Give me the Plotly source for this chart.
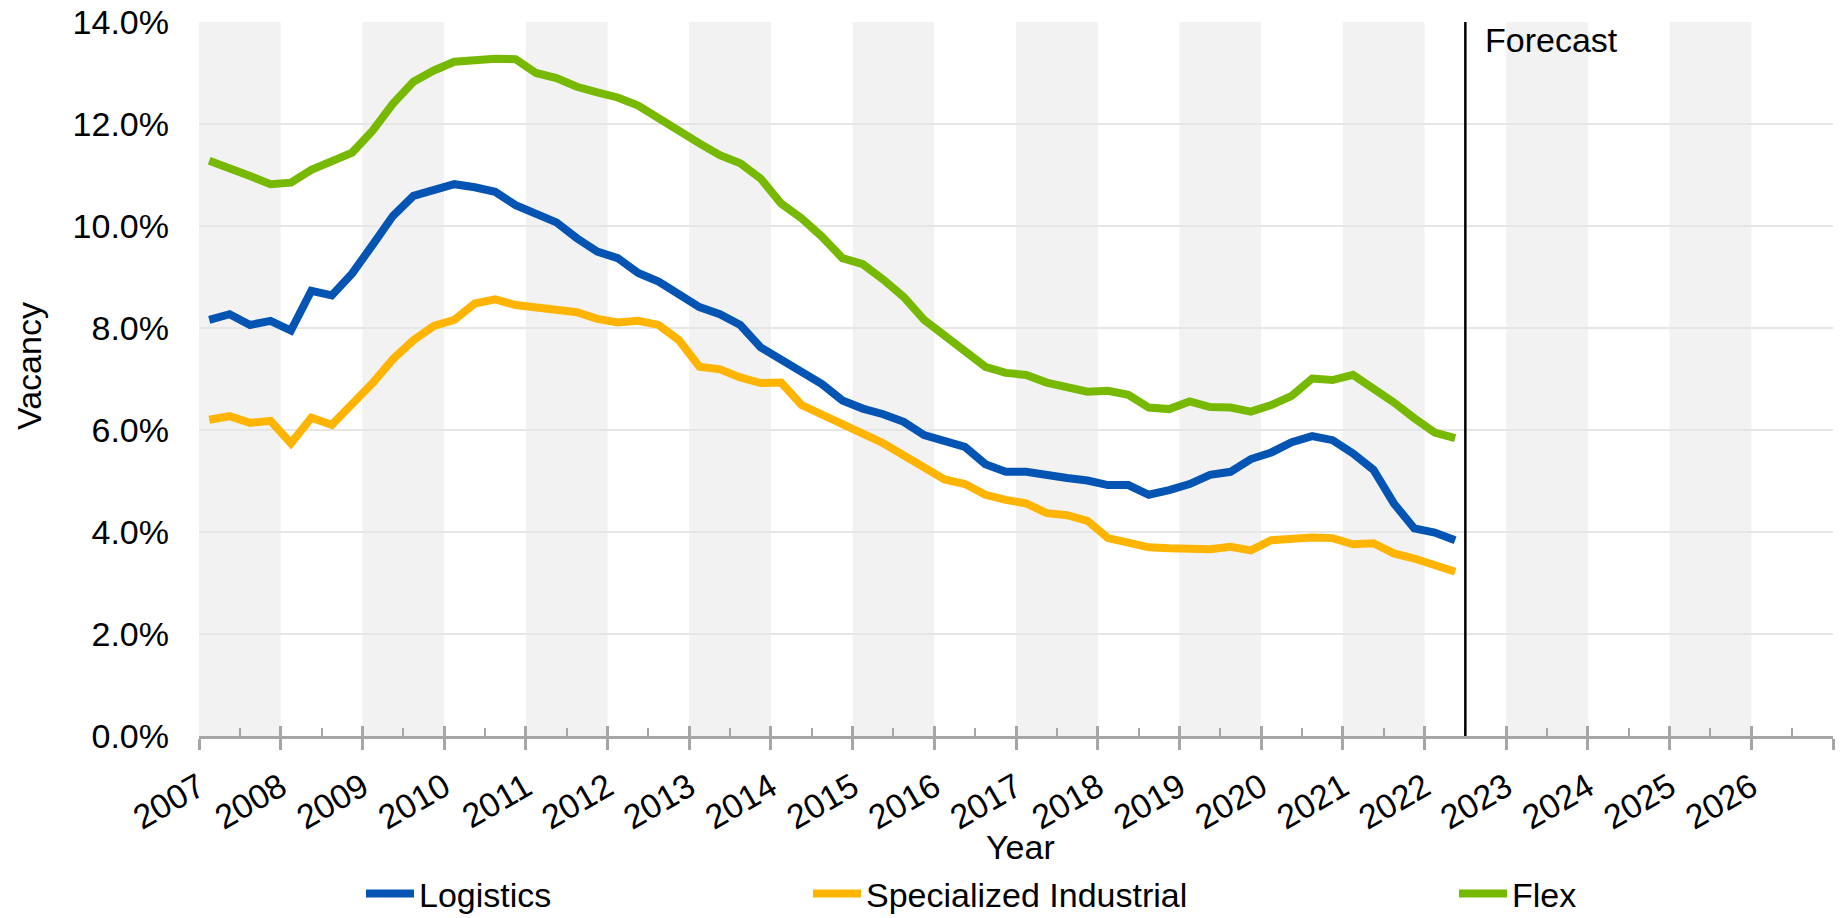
import plotly.graph_objects as go

# ---------------- data ----------------
quarters = [f"{y}Q{q}" for y in range(2007, 2023) for q in range(1, 5)][:62]  # 2007Q1 .. 2022Q2

logistics = [8.16, 8.27, 8.06, 8.14, 7.95, 8.73, 8.64, 9.07, 9.63, 10.20,
             10.59, 10.72, 10.82, 10.76, 10.67, 10.41, 10.22, 10.07, 9.76, 9.50,
             9.37, 9.08, 8.91, 8.65, 8.41, 8.27, 8.06, 7.62, 7.39, 7.14,
             6.90, 6.58, 6.42, 6.31, 6.16, 5.90, 5.80, 5.67, 5.33, 5.18,
             5.18, 5.10, 5.06, 5.01, 4.92, 4.92, 4.73, 4.82, 4.94, 5.12,
             5.18, 5.43, 5.56, 5.76, 5.88, 5.80, 5.54, 5.22, 4.56, 4.07, 3.99, 3.84]

specialized = [6.20, 6.27, 6.14, 6.18, 5.74, 6.24, 6.10, 6.49, 6.92, 7.39,
               7.76, 8.04, 8.16, 8.48, 8.56, 8.45, 8.41, 8.37, 8.31, 8.18,
               8.11, 8.14, 8.06, 7.76, 7.24, 7.19, 7.03, 6.92, 6.93, 6.49,
               6.29, 6.10, 5.93, 5.74, 5.51, 5.25, 5.03, 4.94, 4.73, 4.63,
               4.56, 4.37, 4.33, 4.22, 3.88, 3.79, 3.70, 3.68, 3.66, 3.66,
               3.71, 3.64, 3.84, 3.88, 3.89, 3.88, 3.76, 3.78, 3.58, 3.48, 3.37, 3.22]

flex = [11.28, 11.15, 10.98, 10.82, 10.85, 11.10, 11.29, 11.44, 11.87, 12.40,
        12.83, 13.05, 13.22, 13.26, 13.28, 13.27, 13.00, 12.90, 12.73, 12.62,
        12.52, 12.36, 12.10, 11.85, 11.62, 11.39, 11.23, 10.93, 10.44, 10.15,
        9.79, 9.37, 9.25, 8.95, 8.61, 8.16, 7.84, 7.54, 7.24, 7.12,
        7.08, 6.93, 6.85, 6.75, 6.77, 6.69, 6.44, 6.41, 6.56, 6.45,
        6.44, 6.36, 6.49, 6.67, 7.01, 6.98, 7.08, 6.82, 6.54, 6.23, 5.95, 5.84]

series_names = ["Logistics", "Specialized Industrial", "Flex"]
year_ticks = list(range(2007, 2028))
year_labels = [str(y) for y in range(2007, 2027)] + [""]
y_ticks = [0, 2, 4, 6, 8, 10, 12, 14]
forecast_start = 2022.5

# quarter label -> position at the middle of the quarter
x_vals = [int(q[:4]) + (int(q[-1]) - 0.5) / 4 for q in quarters]

colors = ["#0454B4", "#FFB500", "#76B900"]
FONT = "Liberation Sans, Arial, sans-serif"
FS = 34

fig = go.Figure()
legends = ["legend", "legend2", "legend3"]
for name, vals, col, lg in zip(series_names, [logistics, specialized, flex], colors, legends):
    fig.add_trace(go.Scatter(x=x_vals, y=vals, mode="lines", name=name,
                             line=dict(color=col, width=8), legend=lg))

# alternating year bands
shapes = []
for y in range(year_ticks[0], year_ticks[-1], 2):
    shapes.append(dict(type="rect", xref="x", yref="paper", x0=y, x1=y + 1, y0=0, y1=1,
                       fillcolor="#F2F2F2", line=dict(width=0), layer="below"))
shapes.append(dict(type="line", xref="x", yref="paper", x0=forecast_start, x1=forecast_start,
                   y0=0, y1=1, line=dict(color="black", width=2.5), layer="above"))

W, H = 1842, 918
ml, mr, mt, mb = 199, 9, 22, 182
pw, ph = W - ml - mr, H - mt - mb

def px(xp):
    return (xp - ml) / pw

def py(yp):
    return (H - mb - yp) / ph

leg_common = dict(orientation="h", yanchor="middle", xanchor="left",
                  font=dict(family=FONT, size=FS, color="black"),
                  bgcolor="rgba(0,0,0,0)", itemwidth=48, y=py(894))

fig.update_layout(
    width=W, height=H, autosize=False,
    margin=dict(l=ml, r=mr, t=mt, b=mb, pad=0, autoexpand=False),
    paper_bgcolor="white", plot_bgcolor="white",
    font=dict(family=FONT, size=FS, color="black"),
    shapes=shapes,
    legend=dict(x=px(361), **leg_common),
    legend2=dict(x=px(808), **leg_common),
    legend3=dict(x=px(1454), **leg_common),
    xaxis=dict(range=[2007, 2027], tickmode="array", tickvals=year_ticks, ticktext=year_labels,
               tickangle=-30, showgrid=False, zeroline=False,
               showline=True, linecolor="#A6A6A6", linewidth=3,
               ticks="outside", ticklen=11, tickwidth=3, tickcolor="#A6A6A6",
               ticklabelstandoff=4,
               tickfont=dict(family=FONT, size=FS, color="black")),
    xaxis2=dict(range=[2007, 2027], overlaying="x", side="bottom", anchor="y",
                tickmode="linear", tick0=2007, dtick=1, showticklabels=False,
                showgrid=False, zeroline=False, showline=False,
                ticks="inside", ticklen=10, tickwidth=3, tickcolor="#A6A6A6",
                minor=dict(ticks="inside", ticklen=8, tickwidth=2, tickcolor="#A6A6A6",
                           dtick=0.5, tick0=2007.5, showgrid=False)),
    yaxis=dict(range=[0, 14], tickmode="array", tickvals=y_ticks,
               ticktext=[f"{v:.1f}%" for v in y_ticks],
               showgrid=True, gridcolor="#E6E6E6", gridwidth=1.5, zeroline=False,
               showline=False, ticks="", ticklabelstandoff=29,
               tickfont=dict(family=FONT, size=FS, color="black")),
    annotations=[
        dict(text="Year", xref="paper", yref="paper", x=px(1020), y=py(847),
             xanchor="center", yanchor="middle", showarrow=False,
             font=dict(family=FONT, size=FS, color="black")),
        dict(text="Vacancy", xref="paper", yref="paper", x=px(29), y=py(366),
             xanchor="center", yanchor="middle", showarrow=False, textangle=-90,
             font=dict(family=FONT, size=FS, color="black")),
        dict(text="Forecast", xref="x", yref="paper", x=forecast_start, xshift=18, y=py(40),
             xanchor="left", yanchor="middle", showarrow=False,
             font=dict(family=FONT, size=FS, color="black")),
    ],
)
# dummy invisible trace to activate xaxis2
fig.add_trace(go.Scatter(x=[2007], y=[0], xaxis="x2", mode="markers",
                         marker=dict(opacity=0), showlegend=False, hoverinfo="skip"))

fig.write_html("out.html", config={"displayModeBar": False},
               post_script="document.body.style.margin='0';")
